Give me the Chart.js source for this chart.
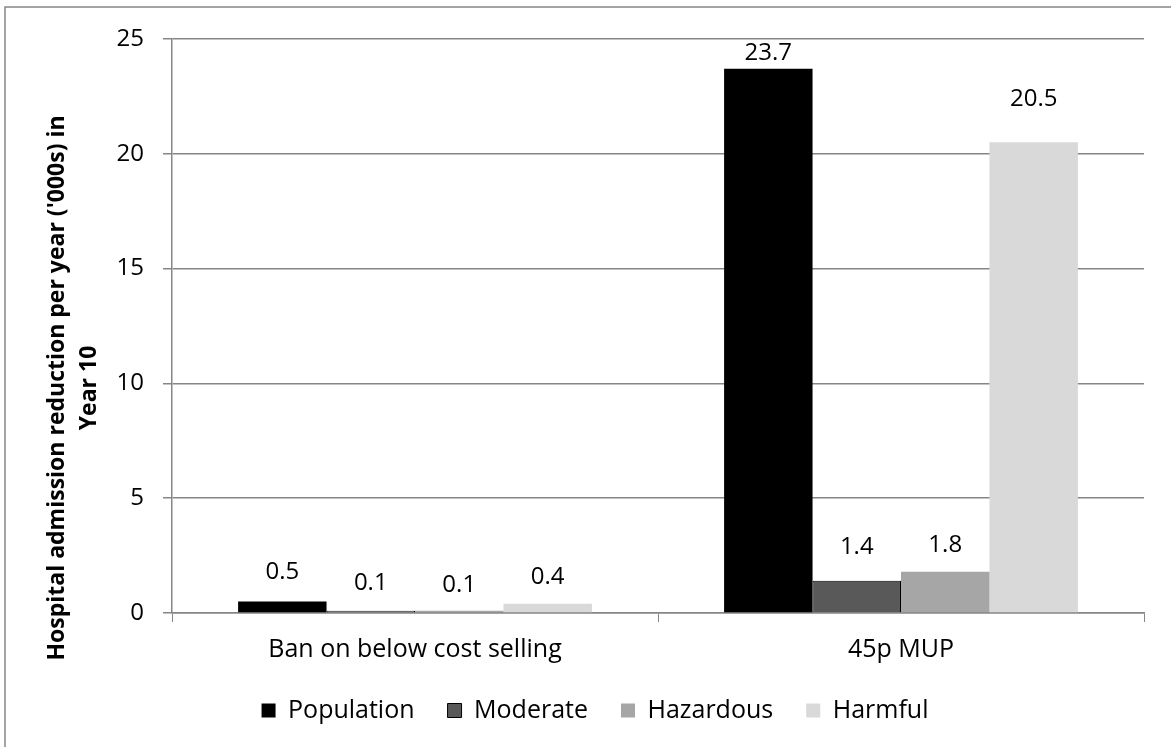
<!DOCTYPE html>
<html>
<head>
<meta charset="utf-8">
<script src="https://cdn.jsdelivr.net/npm/chart.js@4.4.1/dist/chart.umd.min.js"></script>
<style>
  html, body { margin: 0; padding: 0; background: #ffffff; }
  canvas { display: block; }
</style>
</head>
<body>
<canvas id="chart" width="1171" height="747"></canvas>
<script>
// Hospital admission reductions per year ('000s) in year 10, by policy and drinker group
const categories = ['Ban on below cost selling', '45p MUP'];
const population = [0.5, 23.7];
const moderate = [0.1, 1.4];
const hazardous = [0.1, 1.8];
const harmful = [0.4, 20.5];
const yTickValues = [0, 5, 10, 15, 20, 25];
const yTitle = ["Hospital admission reduction per year ('000s) in", 'Year 10'];

const FONT = '"Open Sans", Lato, "Liberation Sans", sans-serif';
const GRID = '#868686';

// white background plus the frame lines along the top and left edges
const framePlugin = {
  id: 'frame',
  beforeDraw(chart) {
    const ctx = chart.ctx;
    ctx.save();
    ctx.fillStyle = '#ffffff';
    ctx.fillRect(0, 0, chart.width, chart.height);
    ctx.strokeStyle = GRID;
    ctx.lineWidth = 1.5;
    ctx.beginPath();
    ctx.moveTo(5, chart.height);
    ctx.lineTo(5, 7);
    ctx.lineTo(chart.width, 7);
    ctx.stroke();
    ctx.restore();
  }
};

// two-line rotated value-axis title, centred on the whole chart height
const axisTitlePlugin = {
  id: 'axisTitle',
  afterDraw(chart, args, opts) {
    const ctx = chart.ctx;
    ctx.save();
    ctx.font = 'bold 23px ' + FONT;
    ctx.fillStyle = '#000000';
    ctx.textAlign = 'center';
    ctx.textBaseline = 'middle';
    opts.lines.forEach((line, i) => {
      ctx.save();
      ctx.translate(opts.x[i], opts.y);
      ctx.rotate(-Math.PI / 2);
      ctx.fillText(line, 0, 0);
      ctx.restore();
    });
    ctx.restore();
  }
};

// value labels above each bar
const valueLabelPlugin = {
  id: 'valueLabels',
  afterDatasetsDraw(chart, args, opts) {
    const ctx = chart.ctx;
    ctx.save();
    ctx.font = '24px ' + FONT;
    ctx.fillStyle = '#000000';
    ctx.textAlign = 'center';
    ctx.textBaseline = 'middle';
    chart.data.datasets.forEach((ds, di) => {
      const meta = chart.getDatasetMeta(di);
      meta.data.forEach((bar, i) => {
        const lift = opts.lift[di][i];
        ctx.fillText(ds.data[i].toFixed(1), bar.x, bar.y - lift);
      });
    });
    ctx.restore();
  }
};

new Chart(document.getElementById('chart'), {
  type: 'bar',
  data: {
    labels: categories,
    datasets: [
      { label: 'Population', data: population, backgroundColor: '#000000', borderColor: '#000000', borderWidth: 0 },
      { label: 'Moderate', data: moderate, backgroundColor: '#595959', borderColor: '#000000', borderWidth: 1 },
      { label: 'Hazardous', data: hazardous, backgroundColor: '#a6a6a6', borderColor: '#a6a6a6', borderWidth: 0 },
      { label: 'Harmful', data: harmful, backgroundColor: '#d9d9d9', borderColor: '#d9d9d9', borderWidth: 0 }
    ]
  },
  options: {
    responsive: false,
    animation: false,
    layout: { padding: { left: 46, top: 39, right: 27, bottom: 14 } },
    datasets: { bar: { categoryPercentage: 0.728, barPercentage: 1.0 } },
    scales: {
      x: {
        grid: { offset: true, drawOnChartArea: false, drawTicks: true, tickLength: 9, color: GRID },
        border: { color: GRID, width: 1.5 },
        ticks: { color: '#000000', font: { family: FONT, size: 25 }, padding: 13 },
        afterFit(scale) { scale.height = 52; }
      },
      y: {
        min: 0,
        max: 25,
        afterBuildTicks(scale) { scale.ticks = yTickValues.map(v => ({ value: v })); },
        grid: { color: GRID, lineWidth: 1.5, tickLength: 9 },
        border: { color: GRID, width: 1.5 },
        ticks: { color: '#000000', font: { family: FONT, size: 24 }, padding: 19 },
        afterFit(scale) { scale.width = 126; }
      }
    },
    plugins: {
      legend: {
        position: 'bottom',
        labels: {
          color: '#000000',
          font: { family: FONT, size: 25 },
          boxWidth: 14,
          boxHeight: 14,
          padding: 33
        }
      },
      tooltip: { enabled: false },
      valueLabels: {
        lift: [[29, 16], [28, 34], [26, 27], [27, 43]]
      },
      axisTitle: {
        lines: yTitle,
        x: [57, 89],
        y: 388
      }
    }
  },
  plugins: [framePlugin, axisTitlePlugin, valueLabelPlugin]
});
</script>
</body>
</html>
